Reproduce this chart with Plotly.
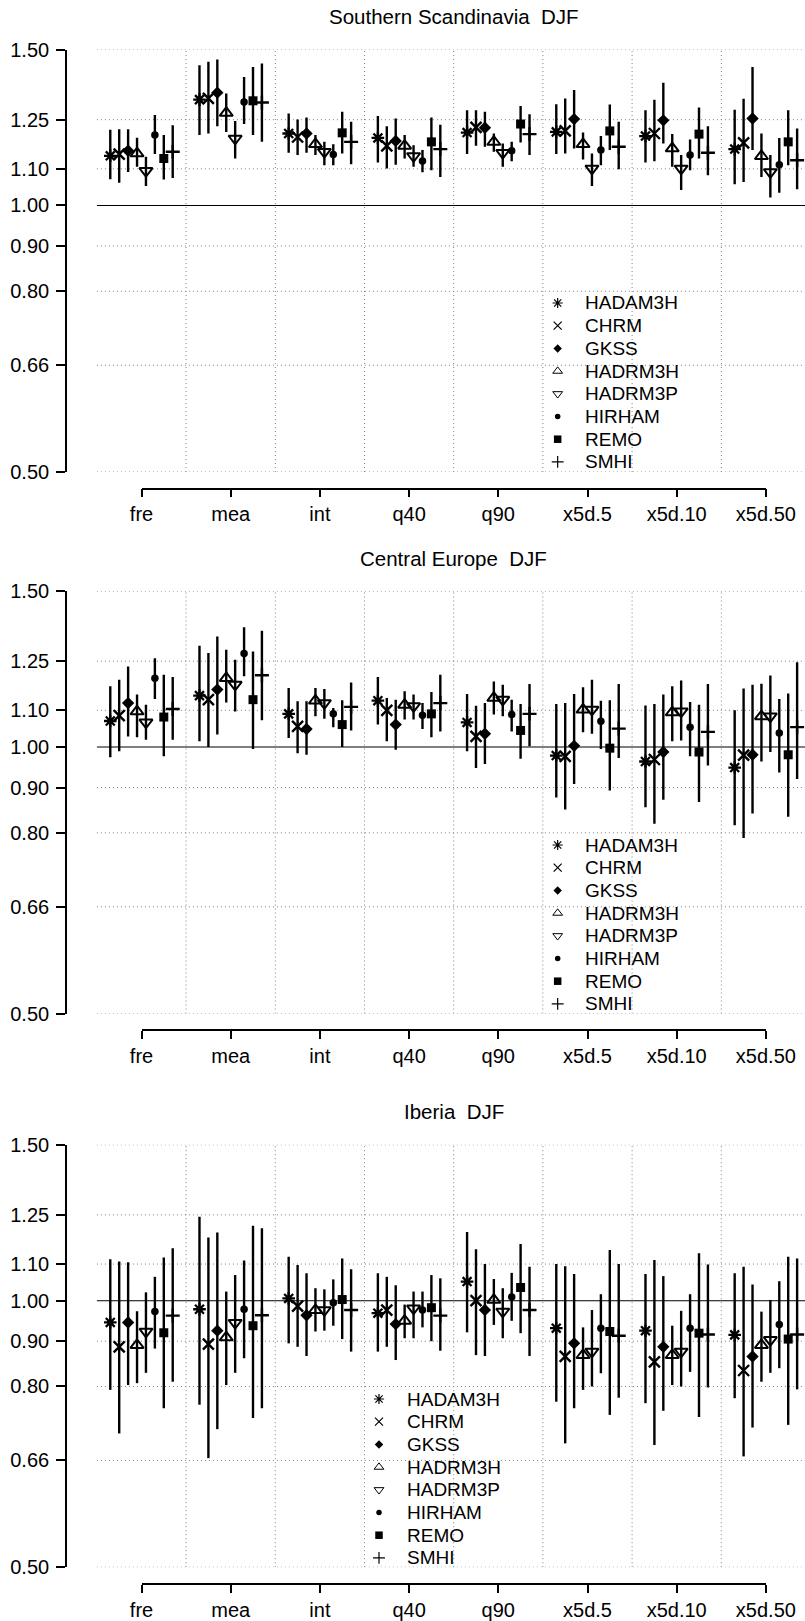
import math
import plotly.graph_objects as go

# ---------------- data ----------------
CATS = ["fre", "mea", "int", "q40", "q90", "x5d.5", "x5d.10", "x5d.50"]
MODELS = ["HADAM3H", "CHRM", "GKSS", "HADRM3H", "HADRM3P", "HIRHAM", "REMO", "SMHI"]
REGIONS = ["Southern Scandinavia\u00a0 DJF", "Central Europe\u00a0 DJF", "Iberia\u00a0 DJF"]
YTICKS = [0.50, 0.66, 0.80, 0.90, 1.00, 1.10, 1.25, 1.50]

# rows = categories, columns = models
SS_MID = [[1.138, 1.143, 1.153, 1.145, 1.094, 1.201, 1.130, 1.150],
          [1.317, 1.321, 1.341, 1.272, 1.190, 1.309, 1.313, 1.307],
          [1.206, 1.195, 1.206, 1.173, 1.150, 1.142, 1.208, 1.180],
          [1.192, 1.168, 1.183, 1.168, 1.137, 1.123, 1.180, 1.158],
          [1.209, 1.225, 1.224, 1.180, 1.147, 1.153, 1.236, 1.204],
          [1.211, 1.214, 1.252, 1.173, 1.101, 1.155, 1.214, 1.165],
          [1.198, 1.206, 1.248, 1.160, 1.101, 1.140, 1.204, 1.147],
          [1.158, 1.177, 1.254, 1.137, 1.091, 1.112, 1.180, 1.125]]
SS_LO = [[1.071, 1.061, 1.091, 1.106, 1.052, 1.143, 1.070, 1.074],
         [1.201, 1.206, 1.229, 1.211, 1.130, 1.236, 1.201, 1.180],
         [1.147, 1.140, 1.147, 1.140, 1.110, 1.110, 1.145, 1.113],
         [1.118, 1.101, 1.112, 1.130, 1.106, 1.090, 1.096, 1.077],
         [1.143, 1.168, 1.165, 1.150, 1.106, 1.122, 1.178, 1.140],
         [1.143, 1.145, 1.160, 1.127, 1.052, 1.110, 1.155, 1.099],
         [1.118, 1.122, 1.175, 1.106, 1.041, 1.096, 1.130, 1.082],
         [1.057, 1.063, 1.155, 1.077, 1.021, 1.034, 1.110, 1.043]]
SS_HI = [[1.218, 1.219, 1.219, 1.193, 1.135, 1.265, 1.201, 1.232],
         [1.440, 1.453, 1.462, 1.338, 1.246, 1.397, 1.434, 1.447],
         [1.270, 1.251, 1.257, 1.201, 1.180, 1.173, 1.276, 1.243],
         [1.262, 1.229, 1.254, 1.201, 1.170, 1.155, 1.257, 1.234],
         [1.281, 1.281, 1.276, 1.206, 1.175, 1.180, 1.295, 1.268],
         [1.301, 1.321, 1.350, 1.209, 1.145, 1.198, 1.300, 1.243],
         [1.281, 1.317, 1.376, 1.204, 1.140, 1.187, 1.290, 1.229],
         [1.283, 1.320, 1.434, 1.206, 1.140, 1.192, 1.281, 1.222]]

CE_MID = [[1.070, 1.085, 1.121, 1.097, 1.066, 1.196, 1.081, 1.104],
          [1.143, 1.131, 1.161, 1.196, 1.176, 1.275, 1.131, 1.205],
          [1.090, 1.055, 1.048, 1.128, 1.121, 1.090, 1.060, 1.110],
          [1.128, 1.100, 1.060, 1.116, 1.112, 1.086, 1.090, 1.121],
          [1.066, 1.028, 1.035, 1.136, 1.131, 1.088, 1.044, 1.090],
          [0.978, 0.976, 1.003, 1.102, 1.102, 1.069, 0.997, 1.049],
          [0.963, 0.968, 0.987, 1.094, 1.097, 1.053, 0.987, 1.040],
          [0.948, 0.979, 0.980, 1.083, 1.083, 1.037, 0.980, 1.053]]
CE_LO = [[0.974, 0.989, 1.028, 1.026, 1.019, 1.133, 0.976, 1.019],
         [1.015, 1.000, 1.033, 1.123, 1.097, 1.202, 0.995, 1.072],
         [1.024, 0.984, 0.980, 1.083, 1.076, 1.053, 1.000, 1.044],
         [1.060, 1.015, 0.993, 1.074, 1.074, 1.048, 1.026, 1.041],
         [0.989, 0.947, 0.957, 1.088, 1.083, 1.041, 0.970, 1.002],
         [0.877, 0.850, 0.908, 1.039, 1.035, 0.995, 0.893, 0.972],
         [0.855, 0.819, 0.872, 1.015, 1.017, 0.976, 0.867, 0.953],
         [0.816, 0.789, 0.841, 0.963, 0.987, 0.936, 0.834, 0.920]]
CE_HI = [[1.171, 1.191, 1.233, 1.146, 1.116, 1.260, 1.207, 1.200],
         [1.301, 1.277, 1.333, 1.288, 1.255, 1.365, 1.282, 1.353],
         [1.166, 1.126, 1.126, 1.166, 1.163, 1.107, 1.129, 1.183],
         [1.200, 1.136, 1.131, 1.156, 1.146, 1.121, 1.154, 1.207],
         [1.148, 1.113, 1.121, 1.186, 1.176, 1.131, 1.118, 1.178],
         [1.118, 1.121, 1.148, 1.168, 1.191, 1.128, 1.129, 1.178],
         [1.114, 1.118, 1.146, 1.171, 1.189, 1.124, 1.116, 1.178],
         [1.100, 1.164, 1.176, 1.179, 1.204, 1.133, 1.149, 1.247]]

IB_MID = [[0.945, 0.887, 0.945, 0.891, 0.923, 0.972, 0.920, 0.962],
          [0.978, 0.893, 0.925, 0.909, 0.944, 0.978, 0.937, 0.963],
          [1.006, 0.986, 0.963, 0.976, 0.976, 0.995, 1.003, 0.976],
          [0.968, 0.976, 0.941, 0.949, 0.980, 0.976, 0.982, 0.962],
          [1.051, 1.000, 0.976, 1.002, 0.972, 1.010, 1.035, 0.976],
          [0.931, 0.865, 0.895, 0.868, 0.876, 0.931, 0.923, 0.913],
          [0.925, 0.853, 0.887, 0.868, 0.876, 0.931, 0.919, 0.916],
          [0.915, 0.834, 0.865, 0.891, 0.903, 0.940, 0.905, 0.916]]
IB_LO = [[0.793, 0.708, 0.803, 0.807, 0.829, 0.883, 0.756, 0.810],
         [0.763, 0.664, 0.716, 0.803, 0.829, 0.861, 0.737, 0.756],
         [0.895, 0.887, 0.866, 0.923, 0.925, 0.937, 0.905, 0.876],
         [0.876, 0.887, 0.857, 0.907, 0.907, 0.933, 0.900, 0.878],
         [0.921, 0.868, 0.866, 0.939, 0.907, 0.949, 0.919, 0.866],
         [0.769, 0.690, 0.756, 0.793, 0.800, 0.828, 0.743, 0.777],
         [0.766, 0.687, 0.751, 0.803, 0.800, 0.831, 0.739, 0.798],
         [0.776, 0.667, 0.719, 0.810, 0.829, 0.839, 0.724, 0.794]]
IB_HI = [[1.114, 1.107, 1.105, 0.973, 1.022, 1.064, 1.119, 1.146],
         [1.244, 1.179, 1.194, 1.024, 1.069, 1.110, 1.215, 1.207],
         [1.121, 1.097, 1.074, 1.033, 1.030, 1.057, 1.116, 1.085],
         [1.074, 1.064, 1.041, 0.990, 1.024, 1.024, 1.069, 1.060],
         [1.196, 1.143, 1.100, 1.058, 1.033, 1.075, 1.159, 1.092],
         [1.100, 1.094, 1.072, 0.933, 0.976, 1.017, 1.141, 1.100],
         [1.072, 1.112, 1.066, 0.937, 0.974, 1.017, 1.131, 1.099],
         [1.074, 1.092, 1.043, 0.972, 1.002, 1.052, 1.121, 1.116]]

PANELS = [(SS_MID, SS_LO, SS_HI), (CE_MID, CE_LO, CE_HI), (IB_MID, IB_LO, IB_HI)]

# ---------------- styling ----------------
W, H = 805, 1621
FONT = "Liberation Sans, Arial, Helvetica, sans-serif"
SYM = ["asterisk-open", "x-thin-open", "diamond", "triangle-up-open",
       "triangle-down-open", "circle", "square", "cross-thin-open"]
SIZE = [10.5, 11, 9.5, 11.5, 11.5, 7.5, 9, 10]
LW = [2.3, 2.4, 0, 2, 2, 0, 0, 2.4]
LSIZE = [8.5, 8, 6.5, 8.5, 8.5, 5.5, 7.5, 8.5]
LLW = [1.2, 1.2, 0, 1, 1, 0, 0, 1.2]

ONE_PX = [205.5, 747.0, 1300.7]        # pixel row of y = 1.00 in each panel
KPX = 384.5                            # pixels per unit of ln(y)
LEG_FIRST = [303.0, 845.0, 1399.0]
LEG_SYM_X = [559.0, 559.0, 380.0]
LEG_TXT_X = [583.0, 583.0, 405.0]
ROW = 22.7
CX0, CDX = 141.5, 89.2                 # category centre pixels


def fy(px):
    return 1 - px / H


def fx(px):
    return px / W


fig = go.Figure()
layout = dict(width=W, height=H, autosize=False,
              margin=dict(l=0, r=0, t=0, b=0, pad=0, autoexpand=False),
              paper_bgcolor="white", plot_bgcolor="rgba(0,0,0,0)",
              showlegend=False, font=dict(family=FONT, size=19, color="black"),
              annotations=[])

xl = 1 + (67 - CX0) / CDX
xr = 1 + (W - CX0) / CDX
grid_h = [v for v in YTICKS if v != 1.0]
grid_v = [c + 1.5 for c in range(len(CATS) - 1)]

for p, (mid, lo, hi) in enumerate(PANELS):
    one = ONE_PX[p]
    top = one - math.log(1.5) * KPX
    bot = one + math.log(2.0) * KPX
    xm, ym = f"x{p+1}", f"y{p+1}"
    xt = f"x{p+4}"
    xL, yL = f"x{p+7}", f"y{p+4}"
    xm_k = "xaxis" if p == 0 else f"xaxis{p+1}"
    ym_k = "yaxis" if p == 0 else f"yaxis{p+1}"
    xm_r = "x" if p == 0 else xm
    ym_r = "y" if p == 0 else ym

    layout[xm_k] = dict(domain=[fx(67), 1], range=[xl, xr], anchor=ym_r,
                        showgrid=False, zeroline=False, showline=False,
                        showticklabels=False, ticks="", fixedrange=True,
                        automargin=False)
    layout[ym_k] = dict(domain=[fy(bot), fy(top)], type="log",
                        range=[math.log10(0.5), math.log10(1.5)], anchor=xm_r,
                        showgrid=False, zeroline=False, showline=True,
                        linecolor="black", linewidth=1.7, ticks="outside",
                        ticklen=9, tickwidth=1.7, tickcolor="black",
                        tickvals=YTICKS, ticktext=[f"{v:.2f}" for v in YTICKS],
                        tickfont=dict(size=20, family=FONT),
                        ticklabelstandoff=3, automargin=False)
    layout[f"xaxis{p+4}"] = dict(domain=[fx(CX0), fx(CX0 + 7 * CDX)],
                                 range=[1, len(CATS)], anchor="free",
                                 position=fy(bot + 16.5), showgrid=False,
                                 zeroline=False, showline=True,
                                 linecolor="black", linewidth=1.7,
                                 ticks="outside", ticklen=8, tickwidth=1.7,
                                 tickcolor="black",
                                 tickvals=list(range(1, len(CATS) + 1)),
                                 ticktext=CATS, tickfont=dict(size=20, family=FONT),
                                 ticklabelstandoff=0, automargin=False)
    layout[f"xaxis{p+7}"] = dict(domain=[fx(LEG_SYM_X[p] - 14), fx(LEG_TXT_X[p])],
                                 range=[-0.5, 1], anchor=yL, visible=False,
                                 automargin=False)
    layout[f"yaxis{p+4}"] = dict(domain=[fy(LEG_FIRST[p] + 7.5 * ROW),
                                         fy(LEG_FIRST[p] - 0.5 * ROW)],
                                 range=[7.5, -0.5], anchor=xL, visible=False,
                                 automargin=False)

    # dummy trace so the category axis is drawn
    fig.add_trace(go.Scatter(x=[None], y=[None], xaxis=xt, yaxis=ym_r,
                             mode="markers", hoverinfo="skip"))

    # grid lines
    gx, gy = [], []
    for v in grid_h:
        gx += [0.5, len(CATS) + 0.5, None]
        gy += [v, v, None]
    for g in grid_v:
        gx += [g, g, None]
        gy += [0.5, 1.5, None]
    fig.add_trace(go.Scatter(x=gx, y=gy, xaxis=xm_r, yaxis=ym_r, mode="lines",
                             line=dict(color="#808080", width=1, dash="1px,3px"),
                             hoverinfo="skip"))
    fig.add_trace(go.Scatter(x=[0.5, len(CATS) + 0.5], y=[1.0, 1.0], xaxis=xm_r,
                             yaxis=ym_r, mode="lines",
                             line=dict(color="black", width=1.1), hoverinfo="skip"))

    # data points with error bars
    for m, name in enumerate(MODELS):
        xs = [c + 1 + (m - 3.5) * 0.1 for c in range(len(CATS))]
        ys = [mid[c][m] for c in range(len(CATS))]
        up = [hi[c][m] - mid[c][m] for c in range(len(CATS))]
        dn = [mid[c][m] - lo[c][m] for c in range(len(CATS))]
        fig.add_trace(go.Scatter(
            x=xs, y=ys, xaxis=xm_r, yaxis=ym_r, mode="markers", name=name,
            marker=dict(symbol=SYM[m], size=SIZE[m], color="black",
                        line=dict(color="black", width=LW[m])),
            error_y=dict(type="data", symmetric=False, array=up, arrayminus=dn,
                         width=0, thickness=2.4, color="black"),
            cliponaxis=False))

    # legend drawn on its own small axes
    for m, name in enumerate(MODELS):
        fig.add_trace(go.Scatter(
            x=[0], y=[m], xaxis=xL, yaxis=yL, mode="markers",
            marker=dict(symbol=SYM[m], size=LSIZE[m], color="black",
                        line=dict(color="black", width=LLW[m])),
            cliponaxis=False, hoverinfo="skip"))
        layout["annotations"].append(dict(
            x=1, y=m, xref=xL, yref=yL, text=name, showarrow=False,
            xanchor="left", yanchor="middle", font=dict(size=19, family=FONT)))

    # title
    layout["annotations"].append(dict(
        x=fx(453.5), y=fy(top - 33), xref="paper", yref="paper",
        text=REGIONS[p], showarrow=False, xanchor="center", yanchor="middle",
        font=dict(size=20.5, family=FONT)))

fig.update_layout(**layout)
fig.write_html("out.html",
               config={"displayModeBar": False},
               post_script="document.body.style.margin='0px';"
                           "document.body.style.overflow='hidden';")
